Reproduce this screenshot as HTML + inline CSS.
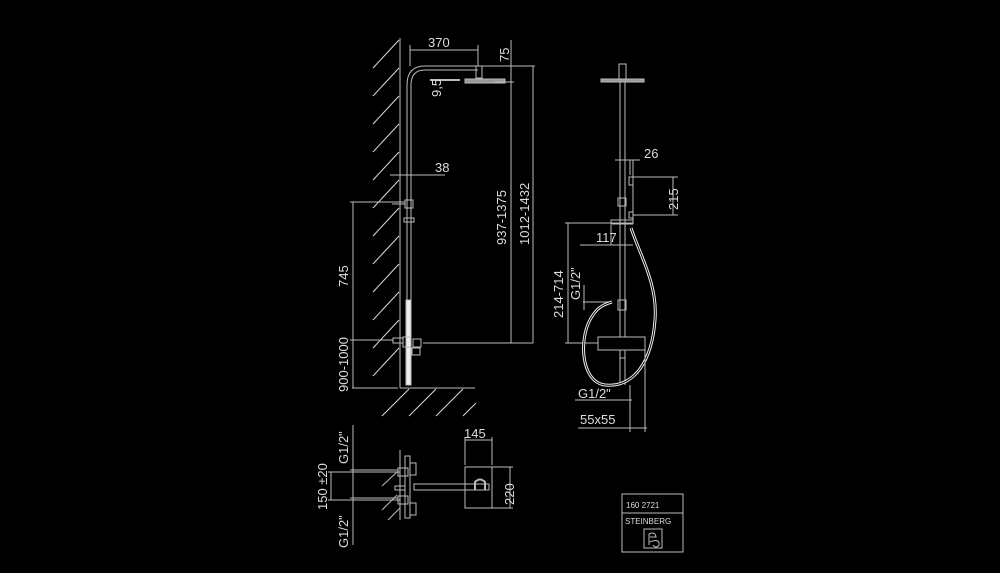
<!DOCTYPE html>
<html><head><meta charset="utf-8"><style>
html,body{margin:0;padding:0;background:#000;}
svg{display:block}
text{font-family:"Liberation Sans",sans-serif;fill:#ddd}
</style></head><body>
<svg width="1000" height="573" viewBox="0 0 1000 573" xmlns="http://www.w3.org/2000/svg">
<g stroke="#bbb" stroke-width="1" fill="none">
<!-- wall -->
<line x1="400" y1="38" x2="400" y2="388"/>
<g stroke="#ddd">
<line x1="373" y1="68" x2="399" y2="40"/><line x1="373" y1="96" x2="399" y2="68"/><line x1="373" y1="124" x2="399" y2="96"/>
<line x1="373" y1="152" x2="399" y2="124"/><line x1="373" y1="180" x2="399" y2="152"/><line x1="373" y1="208" x2="399" y2="180"/>
<line x1="373" y1="236" x2="399" y2="208"/><line x1="373" y1="264" x2="399" y2="236"/><line x1="373" y1="292" x2="399" y2="264"/>
<line x1="373" y1="320" x2="399" y2="292"/><line x1="373" y1="348" x2="399" y2="320"/><line x1="373" y1="376" x2="399" y2="348"/>
<line x1="382" y1="416" x2="409" y2="389"/><line x1="409" y1="416" x2="436" y2="389"/><line x1="436" y1="416" x2="463" y2="389"/><line x1="463" y1="416" x2="476" y2="403"/>
</g>
<line x1="352" y1="388" x2="398" y2="388"/><line x1="400" y1="388" x2="475" y2="388"/>
<!-- pipe -->
<path d="M407 385 V85 Q407 66 425 66 H478"/>
<path d="M411 385 V85 Q411 70 425 70 H478"/>
<rect x="476" y="66" width="6" height="12"/>
<rect x="465" y="79" width="40" height="4" fill="#999"/>
<line x1="430" y1="80" x2="460" y2="80" stroke-width="2"/>
<rect x="405" y="200" width="8" height="8"/><line x1="392" y1="204" x2="405" y2="204"/>
<rect x="404" y="218" width="10" height="4"/>
<rect x="406" y="300" width="5" height="85" fill="#eee"/>
<rect x="393" y="338" width="10" height="5"/><rect x="403" y="337" width="8" height="10"/><rect x="413" y="339" width="8" height="8"/>
<rect x="412" y="348" width="8" height="7"/>
<!-- dims left -->
<line x1="410" y1="50" x2="478" y2="50"/><line x1="410" y1="45" x2="410" y2="66"/><line x1="478" y1="45" x2="478" y2="66"/>
<line x1="482" y1="66" x2="535" y2="66"/><line x1="495" y1="82" x2="514" y2="82"/>
<line x1="511" y1="40" x2="511" y2="343"/><line x1="533" y1="66" x2="533" y2="343"/>
<line x1="390" y1="175" x2="445" y2="175"/>
<line x1="353" y1="202" x2="353" y2="388"/><line x1="350" y1="202" x2="405" y2="202"/>
<line x1="350" y1="340" x2="393" y2="340"/><line x1="423" y1="343" x2="533" y2="343"/>
<!-- right view -->
<line x1="620" y1="80" x2="620" y2="385"/><line x1="625" y1="80" x2="625" y2="385"/>
<rect x="619" y="64" width="7" height="15"/>
<rect x="601" y="79" width="43" height="3" fill="#999"/>
<line x1="615" y1="160" x2="640" y2="160"/><line x1="633" y1="160" x2="633" y2="222"/><line x1="630" y1="160" x2="630" y2="175"/>
<line x1="633" y1="177" x2="678" y2="177"/><line x1="633" y1="215" x2="678" y2="215"/><line x1="673" y1="177" x2="673" y2="215"/>
<rect x="618" y="198" width="8" height="8"/><rect x="629" y="177" width="4" height="8"/><rect x="629" y="212" width="4" height="6"/>
<line x1="565" y1="223" x2="633" y2="223"/><rect x="611" y="220" width="22" height="4"/>
<line x1="580" y1="245" x2="633" y2="245"/><line x1="611" y1="225" x2="611" y2="245"/>
<line x1="568" y1="223" x2="568" y2="343"/><line x1="565" y1="343" x2="600" y2="343"/>
<line x1="583" y1="302" x2="612" y2="302"/><line x1="584" y1="285" x2="584" y2="310"/>
<rect x="618" y="300" width="8" height="10"/>
<rect x="598" y="337" width="47" height="13" fill="#000"/><rect x="620" y="350" width="5" height="8"/>
<path d="M631 228 C640 255 658 285 655 320 C652 360 635 388 605 385 C580 382 578 335 593 315 C598 307 605 304 612 302" stroke="#eee" stroke-width="3"/>
<path d="M631 228 C640 255 658 285 655 320 C652 360 635 388 605 385 C580 382 578 335 593 315 C598 307 605 304 612 302" stroke="#000" stroke-width="1"/>
<line x1="575" y1="400" x2="632" y2="400"/><line x1="578" y1="428" x2="647" y2="428"/>
<line x1="630" y1="385" x2="630" y2="432"/><line x1="645" y1="350" x2="645" y2="432"/>
<!-- bottom view -->
<line x1="353" y1="425" x2="353" y2="545"/>
<line x1="331" y1="472" x2="331" y2="500"/>
<line x1="328" y1="472" x2="400" y2="472"/><line x1="328" y1="500" x2="400" y2="500"/>
<line x1="350" y1="470" x2="398" y2="470"/><line x1="350" y1="498" x2="398" y2="498"/>
<line x1="400" y1="450" x2="400" y2="520"/>
<rect x="405" y="456" width="5" height="62"/>
<rect x="398" y="468" width="10" height="8"/><rect x="398" y="496" width="10" height="8"/>
<rect x="410" y="463" width="6" height="12"/><rect x="410" y="503" width="6" height="12"/>
<rect x="395" y="486" width="10" height="4"/>
<line x1="382" y1="486" x2="397" y2="472"/><line x1="382" y1="510" x2="397" y2="495"/><line x1="388" y1="520" x2="400" y2="508"/>
<rect x="414" y="484" width="75" height="6"/>
<rect x="465" y="467" width="27" height="41"/>
<path d="M475 490 V482 Q480 477 485 482 V490" stroke-width="2"/>
<line x1="465" y1="440" x2="492" y2="440"/><line x1="465" y1="437" x2="465" y2="465"/><line x1="492" y1="437" x2="492" y2="465"/>
<line x1="510" y1="467" x2="510" y2="508"/><line x1="492" y1="467" x2="513" y2="467"/><line x1="492" y1="508" x2="513" y2="508"/>
<!-- logo -->
<rect x="622" y="494" width="61" height="58"/><line x1="622" y1="513" x2="683" y2="513"/>
<rect x="644" y="529" width="18" height="19"/>
<path d="M649 545 V534 Q655 531 656 537 H650 M650 542 Q660 538 659 545 Q656 549 653 545"/>
</g>
<g font-size="13">
<text x="428" y="47">370</text>
<text x="435" y="172">38</text>
<text x="596" y="242">117</text>
<text x="644" y="158">26</text>
<text x="578" y="398">G1/2"</text>
<text x="580" y="424">55x55</text>
<text x="464" y="438">145</text>
<text transform="translate(509,62) rotate(-90)">75</text>
<text transform="translate(441,97) rotate(-90)">9,5</text>
<text transform="translate(506,245) rotate(-90)">937-1375</text>
<text transform="translate(529,245) rotate(-90)">1012-1432</text>
<text transform="translate(348,287) rotate(-90)">745</text>
<text transform="translate(348,392) rotate(-90)">900-1000</text>
<text transform="translate(678,210) rotate(-90)">215</text>
<text transform="translate(563,318) rotate(-90)">214-714</text>
<text transform="translate(580,300) rotate(-90)">G1/2"</text>
<text transform="translate(348,464) rotate(-90)">G1/2"</text>
<text transform="translate(348,548) rotate(-90)">G1/2"</text>
<text transform="translate(327,510) rotate(-90)">150 ±20</text>
<text transform="translate(514,505) rotate(-90)">220</text>
</g>
<text x="626" y="508" font-size="8">160 2721</text>
<text x="625" y="524" font-size="8">STEINBERG</text>
</svg>
</body></html>
